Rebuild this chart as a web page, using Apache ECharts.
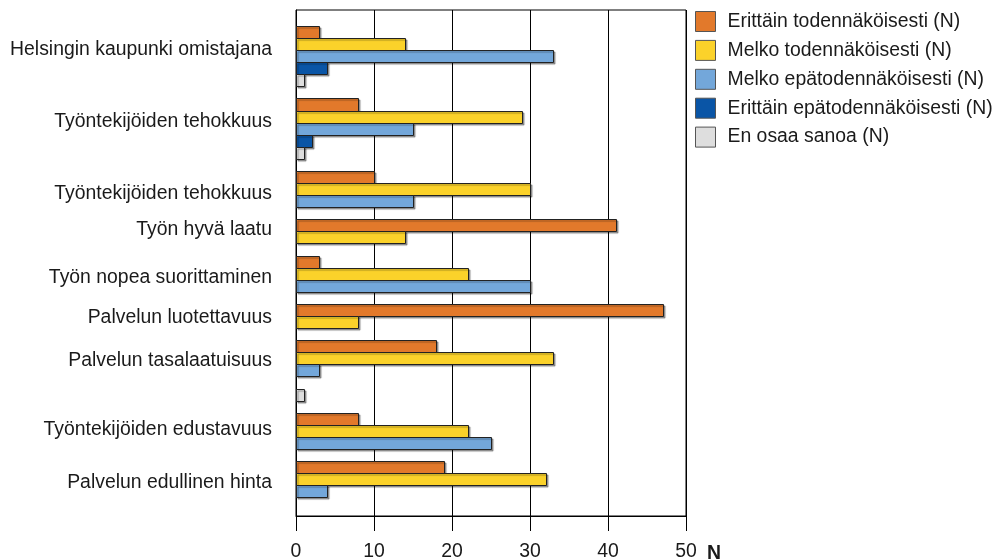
<!DOCTYPE html>
<html>
<head>
<meta charset="utf-8">
<script src="https://cdn.jsdelivr.net/npm/echarts@6/dist/echarts.min.js"></script>
<style>
  html, body { margin: 0; padding: 0; background: #fff; }
  #chart { width: 992px; height: 559px; }
</style>
</head>
<body>
<div id="chart"></div>
<script>
// Survey topics (one cluster of bars each)
const categories = [
  'Helsingin kaupunki omistajana',
  'Työntekijöiden tehokkuus',
  'Työntekijöiden tehokkuus',
  'Työn hyvä laatu',
  'Työn nopea suorittaminen',
  'Palvelun luotettavuus',
  'Palvelun tasalaatuisuus',
  'Työntekijöiden edustavuus',
  'Palvelun edullinen hinta'
];

// Answer options
const seriesNames = [
  'Erittäin todennäköisesti (N)',
  'Melko todennäköisesti (N)',
  'Melko epätodennäköisesti (N)',
  'Erittäin epätodennäköisesti (N)',
  'En osaa sanoa (N)'
];

// Answer counts per topic
const erittainTodennakoisesti    = [3, 8, 10, 41, 3, 47, 18, 8, 19];
const melkoTodennakoisesti       = [14, 29, 30, 14, 22, 8, 33, 22, 32];
const melkoEpatodennakoisesti    = [33, 15, 15, 0, 30, 0, 3, 25, 4];
const erittainEpatodennakoisesti = [4, 2, 0, 0, 0, 0, 0, 0, 0];
const enOsaaSanoa                = [1, 1, 0, 0, 0, 0, 1, 0, 0];

const xTicks = [0, 10, 20, 30, 40, 50];

const seriesValues = [
  erittainTodennakoisesti,
  melkoTodennakoisesti,
  melkoEpatodennakoisesti,
  erittainEpatodennakoisesti,
  enOsaaSanoa
];

const colors = ['#e2792b', '#fbd22a', '#73a7da', '#0a55a6', '#dedede'];

// Row layout: each topic only takes rows up to its last answered option,
// and clusters are separated by one empty row.
const rowStart = [];
let row = 0;
categories.forEach((c, g) => {
  rowStart.push(row);
  let last = 0;
  seriesValues.forEach((vals, k) => { if (vals[g] > 0) last = k; });
  row += last + 2;
});
const totalRows = row - 1;

// Vertical placement of each topic label, in rows from the cluster's first bar
const labelOffset = [2.0, 1.95, 1.85, 0.85, 1.8, 1.1, 1.7, 1.4, 1.75];
const labelPos = categories.map((c, g) => rowStart[g] + labelOffset[g]);

const FONT = '"Liberation Sans", Arial, sans-serif';
const TEXT = '#1a1a1a';
const FS = 19.4;

function renderBar(params, api) {
  const v = api.value(0);
  const r = api.value(1);
  const a = api.coord([0, r]);
  const b = api.coord([v, r + 1]);
  const x0 = Math.round(a[0]) + 0.5;
  const x1 = Math.round(b[0]) + 0.5;
  const y0 = Math.round(Math.min(a[1], b[1])) + 0.5;
  const y1 = Math.round(Math.max(a[1], b[1])) + 0.5;
  return {
    type: 'rect',
    shape: { x: x0, y: y0, width: x1 - x0, height: y1 - y0 },
    style: {
      fill: api.visual('color'),
      stroke: '#222',
      lineWidth: 1,
      shadowColor: 'rgba(0,0,0,0.35)',
      shadowOffsetX: 1.5,
      shadowOffsetY: 1.5,
      shadowBlur: 1
    }
  };
}

const series = seriesNames.map((name, k) => ({
  name: name,
  type: 'custom',
  renderItem: renderBar,
  itemStyle: { color: colors[k] },
  encode: { x: 0, y: 1 },
  data: categories
    .map((c, g) => [seriesValues[k][g], rowStart[g] + k, g])
    .filter(d => d[0] > 0)
}));

const chart = echarts.init(document.getElementById('chart'), null, { renderer: 'canvas' });
chart.setOption({
  animation: false,
  backgroundColor: '#ffffff',
  textStyle: { fontFamily: FONT },
  grid: {
    left: 296, right: 306, top: 10, bottom: 43,
    outerBoundsMode: 'none',
    containLabel: false,
    show: true, borderColor: '#000', borderWidth: 1,
    backgroundColor: 'transparent'
  },
  legend: {
    orient: 'vertical',
    left: 690, top: 6,
    itemWidth: 20, itemHeight: 20, itemGap: 7.9,
    icon: 'rect',
    selectedMode: false,
    data: seriesNames.map((n, k) => ({
      name: n,
      itemStyle: { color: colors[k], borderColor: '#555', borderWidth: 1 }
    })),
    textStyle: { fontSize: FS, color: TEXT, fontFamily: FONT, padding: [0, 0, 0, 7] }
  },
  xAxis: {
    type: 'value',
    min: xTicks[0], max: xTicks[xTicks.length - 1], interval: xTicks[1] - xTicks[0],
    axisLine: { show: true, onZero: false, lineStyle: { color: '#000', width: 1 } },
    axisTick: { show: true, length: 15, lineStyle: { color: '#000' } },
    axisLabel: { fontSize: FS, color: TEXT, margin: 26, fontFamily: FONT },
    splitLine: { show: true, lineStyle: { color: '#000', width: 1 } },
    name: 'N',
    nameLocation: 'end',
    nameGap: 21,
    nameTextStyle: {
      fontSize: FS, fontWeight: 'bold', color: TEXT, fontFamily: FONT,
      verticalAlign: 'top', padding: [28, 0, 0, 0]
    }
  },
  yAxis: {
    type: 'value',
    inverse: true,
    min: -1.32,
    max: totalRows + 1.55,
    axisLine: { show: true, onZero: false, lineStyle: { color: '#000' } },
    axisTick: { show: false },
    splitLine: { show: false },
    axisLabel: {
      customValues: labelPos,
      fontSize: FS, color: TEXT, margin: 24, fontFamily: FONT,
      formatter: function (val) {
        for (let i = 0; i < labelPos.length; i++) {
          if (Math.abs(labelPos[i] - val) < 1e-6) return categories[i];
        }
        return '';
      }
    }
  },
  series: series
});
</script>
</body>
</html>
